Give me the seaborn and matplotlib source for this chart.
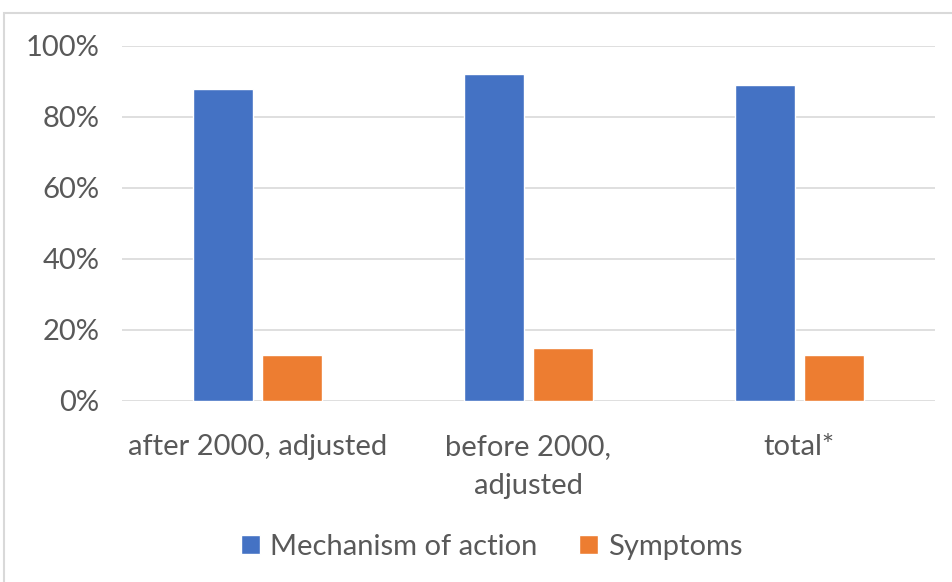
import numpy as np
import pandas as pd
import matplotlib.pyplot as plt
import seaborn as sns
from matplotlib.patches import Rectangle
from matplotlib.ticker import PercentFormatter

categories = ["after 2000, adjusted", "before 2000,\nadjusted", "total*"]
series_names = ["Mechanism of action", "Symptoms"]
mechanism = [88, 92, 89]
symptoms = [13, 15, 13]
yticks = [0, 20, 40, 60, 80, 100]

df = pd.DataFrame({
    "category": categories * 2,
    "series": [series_names[0]] * 3 + [series_names[1]] * 3,
    "value": mechanism + symptoms,
})

sns.set_style("white")
plt.rcParams["font.family"] = ["Lato", "DejaVu Sans"]
text_col = "#595959"

fig = plt.figure(figsize=(9.52, 5.82), dpi=100)
ax = fig.add_axes([0.128, 0.311, 0.854, 0.610])

sns.barplot(data=df, x="category", y="value", hue="series",
            palette=["#4472C4", "#ED7D31"], width=0.51, gap=0.13,
            saturation=1, ax=ax)

ax.set_ylim(0, 100)
ax.set_yticks(yticks)
ax.yaxis.set_major_formatter(PercentFormatter(decimals=0))
ax.grid(axis="y", color="#d9d9d9", linewidth=1.2)
ax.set_axisbelow(True)
for s in ax.spines.values():
    s.set_visible(False)
ax.set_xlabel("")
ax.set_ylabel("")
ax.tick_params(axis="both", length=0, labelsize=21, labelcolor=text_col)
ax.tick_params(axis="x", pad=24)
ax.tick_params(axis="y", pad=16)
for t in ax.get_xticklabels():
    t.set_linespacing(1.6)

leg = ax.legend(loc="center", bbox_to_anchor=(0.455, -0.41), ncol=2,
                frameon=False, fontsize=21, labelcolor=text_col,
                handlelength=0.65, handleheight=0.65, handletextpad=0.35,
                columnspacing=1.4)

# light frame around chart area
fig.patches.append(Rectangle((0.004, -0.01), 1.2, 0.988, transform=fig.transFigure,
                             fill=False, edgecolor="#d9d9d9", linewidth=1.5))

fig.savefig("out.png", dpi=100)
